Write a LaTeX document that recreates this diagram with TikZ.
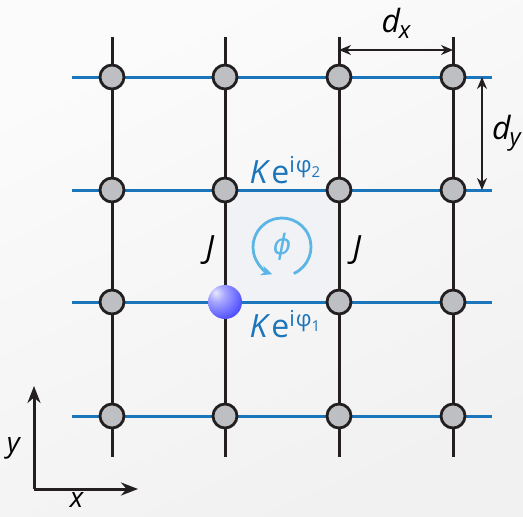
\documentclass[tikz,border=0pt]{standalone}
\usepackage{fontspec}
\setmainfont{Open Sans}
\newfontfamily\phifont{DejaVu Sans}
\usetikzlibrary{arrows.meta}
\definecolor{latblue}{HTML}{1B75BB}
\definecolor{arcblue}{HTML}{5BB5E6}
\definecolor{sitegray}{HTML}{BEBFC2}
\definecolor{darkline}{HTML}{231F20}
\definecolor{cellfill}{HTML}{F1F2F5}
\definecolor{ballblue}{HTML}{3C3CFF}
\pgfdeclareradialshading{particleball}{\pgfpoint{-14bp}{14bp}}{%
  color(0bp)=(white!88!ballblue); color(12bp)=(ballblue!45!white);
  color(38bp)=(ballblue!95!white); color(62bp)=(ballblue!85!black);
  color(100bp)=(ballblue!85!black)}
\tikzset{
  site/.style={circle, draw=darkline, fill=sitegray, line width=2.8pt, minimum size=24pt, inner sep=0pt},
  hline/.style={latblue, line width=3pt},
  vline/.style={darkline, line width=3pt},
  dimarrow/.style={darkline, line width=2.6pt, {Stealth[length=12pt,width=10pt]}-{Stealth[length=12pt,width=10pt]}},
  axarrow/.style={darkline, line width=3pt, -{Stealth[length=17pt,width=13pt]}},
  lbl/.style={inner sep=0pt, font=\fontsize{32}{36}\selectfont},
}
\newcommand{\phaselabel}[1]{\textit{K}\kern1pt e\raisebox{0.36em}{\fontsize{22}{22}\selectfont i\kern1pt φ\raisebox{-0.25em}{\fontsize{15}{15}\selectfont #1}}}
\begin{document}
\begin{tikzpicture}[x=1pt,y=-1pt]
\useasboundingbox (0,0) rectangle (523,517);
\shade[top color=white!97!gray, bottom color=white!89!gray, shading angle=25] (0,0) rectangle (523,517);
% highlighted cell
\fill[cellfill] (225,190) rectangle (339,302);
% horizontal lines
\foreach \yy/\n in {77/1,190/2,302/3,416/4} {
  \coordinate (hl\n) at (72,\yy);
  \coordinate (hr\n) at (492,\yy);
  \draw[hline] (hl\n) -- (hr\n);
}
% vertical lines
\foreach \xx/\n in {112/1,225/2,339/3,453/4} {
  \coordinate (vt\n) at (\xx,37);
  \coordinate (vb\n) at (\xx,457);
  \draw[vline] (vt\n) -- (vb\n);
}
% sites
\foreach \xx/\i in {112/1,225/2,339/3,453/4} {
  \foreach \yy/\j in {77/1,190/2,302/3,416/4} {
    \node[site] (s\i\j) at (\xx,\yy) {};
  }
}
% particle
\shade[shading=particleball] (225,302) circle[radius=17pt];
% dimension arrows
\coordinate (dxa) at (339,50);
\coordinate (dxb) at (453,50);
\draw[dimarrow] (dxa) -- (dxb);
\coordinate (dya) at (482,77);
\coordinate (dyb) at (482,190);
\draw[dimarrow] (dya) -- (dyb);
\node[lbl] (dxl) at (396,23) {\textit{d\kern-1pt\raisebox{-0.18em}{\fontsize{24}{24}\selectfont x}}};
\node[lbl, anchor=west] (dyl) at (492,133) {\textit{d\kern-1pt\raisebox{-0.18em}{\fontsize{24}{24}\selectfont y}}};
% flux
\coordinate (arcstart) at (293.8,273.5);
\draw[arcblue, line width=2.8pt, -{Stealth[length=11pt,width=10pt]}] (arcstart) arc[start angle=-66, end angle=250, radius=29pt];
\node[lbl, text=arcblue, font=\fontsize{28}{30}\selectfont\phifont] (flux) at (282,247) {\textit{ϕ}};
% labels
\node[lbl, text=latblue] (k2) at (285,170) {\phaselabel{2}};
\node[lbl, text=latblue] (k1) at (285,324) {\phaselabel{1}};
\node[lbl] (jl) at (210,250) {\textit{J}};
\node[lbl] (jr) at (357,250) {\textit{J}};
% axes
\coordinate (o) at (34,489);
\coordinate (ay) at (34,386);
\coordinate (ax) at (138,489);
\draw[axarrow] (o) -- (ay);
\draw[axarrow] (o) -- (ax);
\node[lbl, font=\fontsize{28}{30}\selectfont] (yl) at (14,448) {\textit{y}};
\node[lbl, font=\fontsize{28}{30}\selectfont] (xl) at (77,500) {\textit{x}};
\end{tikzpicture}
\end{document}
